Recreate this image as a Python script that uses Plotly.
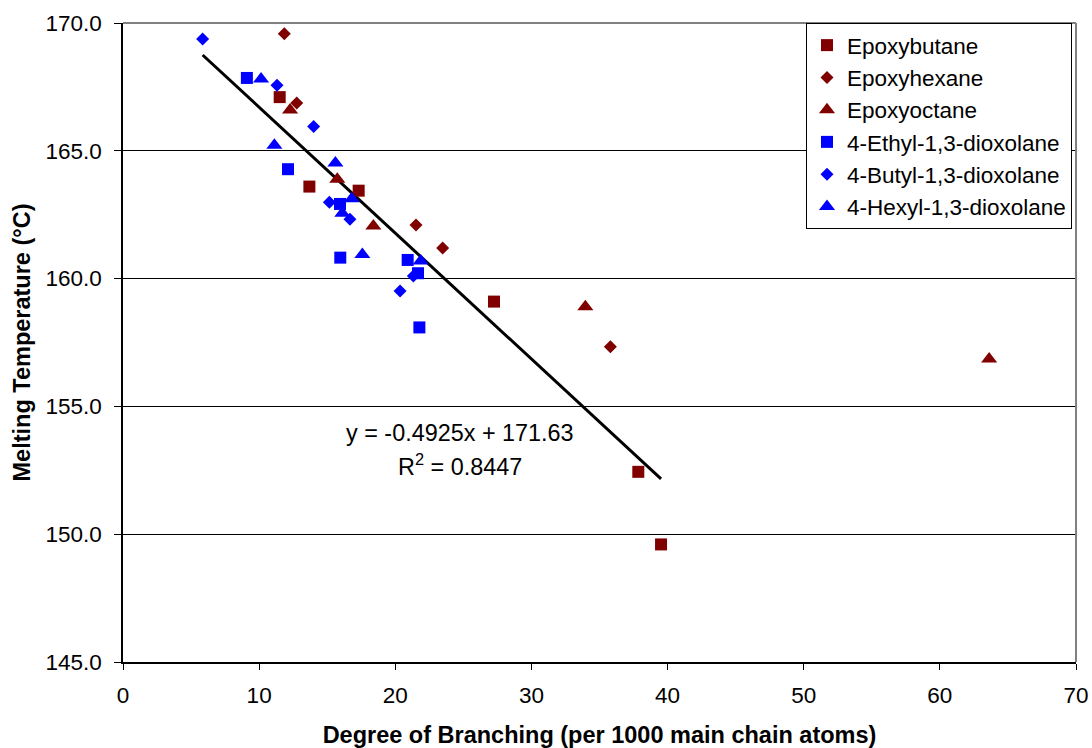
import plotly.graph_objects as go

# ---- data ----
epoxybutane_x = [11.51, 13.69, 17.31, 27.25, 37.85, 39.52]
epoxybutane_y = [167.10, 163.60, 163.44, 159.10, 152.44, 149.60]

epoxyhexane_x = [11.85, 12.76, 21.52, 23.48, 35.80]
epoxyhexane_y = [169.58, 166.87, 162.10, 161.20, 157.33]

epoxyoctane_x = [12.27, 15.74, 18.39, 33.96, 63.62]
epoxyoctane_y = [166.60, 163.89, 162.06, 158.90, 156.85]

ethyl_x = [9.10, 12.12, 15.94, 15.96, 20.91, 21.67, 21.77]
ethyl_y = [167.85, 164.28, 162.92, 160.82, 160.73, 160.21, 158.09]

butyl_x = [5.85, 11.31, 14.00, 15.16, 16.67, 21.33, 20.35]
butyl_y = [169.37, 167.56, 165.95, 162.99, 162.32, 160.10, 159.51]

hexyl_x = [10.14, 11.12, 15.60, 16.80, 16.11, 17.58, 21.87]
hexyl_y = [167.81, 165.22, 164.52, 163.12, 162.56, 160.94, 160.69]

trend_slope = -0.4925
trend_intercept = 171.63
trend_x = [5.85, 39.52]
trend_y = [trend_slope * v + trend_intercept for v in trend_x]

x_ticks = [0, 10, 20, 30, 40, 50, 60, 70]
y_ticks = [145, 150, 155, 160, 165, 170]

DARKRED = "#800000"
BLUE = "#0000FF"
FONT = "Liberation Sans, Arial, sans-serif"

series = [
    ("Epoxybutane", epoxybutane_x, epoxybutane_y, "square", DARKRED, 12),
    ("Epoxyhexane", epoxyhexane_x, epoxyhexane_y, "diamond", DARKRED, 10),
    ("Epoxyoctane", epoxyoctane_x, epoxyoctane_y, "triangle-up", DARKRED, 14),
    ("4-Ethyl-1,3-dioxolane", ethyl_x, ethyl_y, "square", BLUE, 12),
    ("4-Butyl-1,3-dioxolane", butyl_x, butyl_y, "diamond", BLUE, 10),
    ("4-Hexyl-1,3-dioxolane", hexyl_x, hexyl_y, "triangle-up", BLUE, 14),
]

fig = go.Figure()

fig.add_trace(go.Scatter(
    x=trend_x, y=trend_y, mode="lines",
    line=dict(color="black", width=3), showlegend=False, hoverinfo="skip"))

for name, xs, ys, sym, col, sz in series:
    fig.add_trace(go.Scatter(
        x=xs, y=ys, mode="markers", name=name,
        marker=dict(symbol=sym, color=col, size=sz, line=dict(width=0))))

fig.add_annotation(x=24.75, y=153.96, xref="x", yref="y",
                   text="y = -0.4925x + 171.63", showarrow=False,
                   font=dict(family=FONT, size=23.4, color="black"))
fig.add_annotation(x=24.75, y=152.70, xref="x", yref="y",
                   text="R<sup>2</sup> = 0.8447", showarrow=False,
                   font=dict(family=FONT, size=23.4, color="black"))

# gray plot-area border on top and right
fig.add_shape(type="line", xref="paper", yref="paper", x0=0, x1=1, y0=1, y1=1,
              line=dict(color="#808080", width=2), layer="above")
fig.add_shape(type="line", xref="paper", yref="paper", x0=1, x1=1, y0=0, y1=1,
              line=dict(color="#808080", width=2), layer="above")

fig.update_layout(
    width=1092, height=748,
    margin=dict(l=123, r=16, t=23, b=86, autoexpand=False),
    paper_bgcolor="white", plot_bgcolor="white",
    font=dict(family=FONT, size=22.5, color="black"),
    legend=dict(
        x=0.9958, y=1.0, xanchor="right", yanchor="top",
        bgcolor="white", bordercolor="black", borderwidth=1,
        font=dict(family=FONT, size=22.5, color="black"),
        itemwidth=30, tracegroupgap=0,
    ),
    xaxis=dict(
        range=[0, 70], tickvals=x_ticks, ticks="outside", ticklen=6,
        tickcolor="black", showline=True, linecolor="black", linewidth=1.5,
        showgrid=False, zeroline=False, automargin=False,
        ticklabelstandoff=6,
        tickfont=dict(family=FONT, size=22.5),
        title=dict(text="<b>Degree of Branching (per 1000 main chain atoms)</b>",
                   font=dict(family=FONT, size=23.5), standoff=22),
    ),
    yaxis=dict(
        range=[145, 170], tickvals=y_ticks, tickformat=".1f",
        ticks="outside", ticklen=7, tickcolor="black",
        showline=True, linecolor="black", linewidth=1.5,
        showgrid=True, gridcolor="black", gridwidth=1, zeroline=False,
        automargin=False, ticklabelstandoff=8,
        tickfont=dict(family=FONT, size=22.5),
        title=dict(text="<b>Melting Temperature (°C)</b>",
                   font=dict(family=FONT, size=23.5), standoff=8),
    ),
)

fig.write_html("out.html")
